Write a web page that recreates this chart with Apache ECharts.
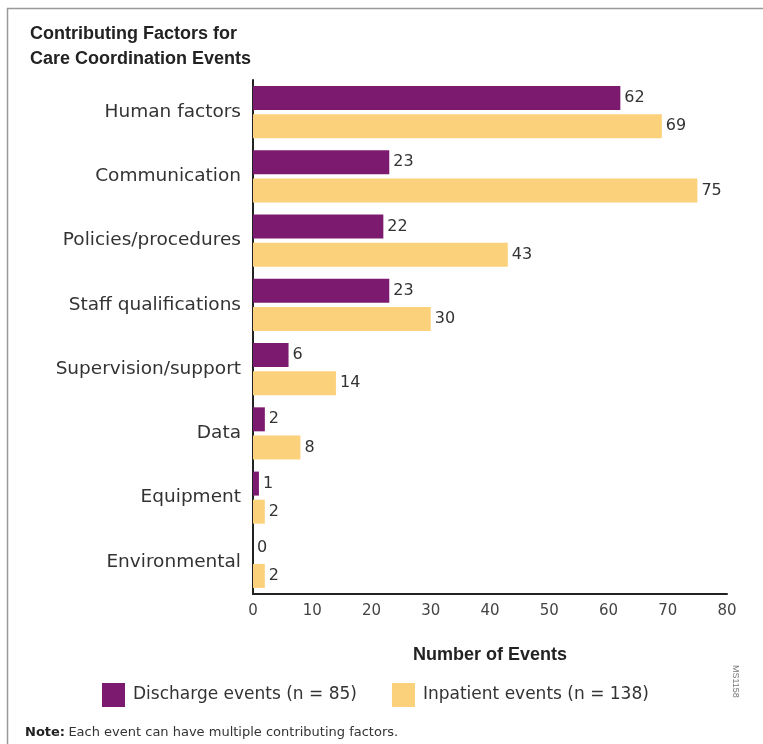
<!DOCTYPE html>
<html>
<head>
<meta charset="utf-8">
<script src="https://cdn.jsdelivr.net/npm/echarts@6/dist/echarts.min.js"></script>
<style>html,body{margin:0;padding:0;background:#fff}#c{width:763px;height:744px}</style>
</head>
<body>
<div id="c"></div>
<script>
const categories = ["Human factors","Communication","Policies/procedures","Staff qualifications","Supervision/support","Data","Equipment","Environmental"];
const dischargeValues = [62,23,22,23,6,2,1,0];
const inpatientValues = [69,75,43,30,14,8,2,2];
const xTicks = {min:0,max:80,interval:10};
const seriesNames = ["Discharge events (n = 85)","Inpatient events (n = 138)"];

const FF = "'Liberation Sans', Arial, sans-serif";
const FW = "'DejaVu Sans', sans-serif";
const chart = echarts.init(document.getElementById('c'));
const lbl = {show:true,position:'right',distance:4,fontSize:16,color:'#333',fontFamily:FW};
chart.setOption({
  animation:false,
  backgroundColor:'#fff',
  grid:{left:253,right:36,top:80,bottom:150},
  legend:{
    data:seriesNames,left:97,top:678,itemWidth:23,itemHeight:24,itemGap:35,
    textStyle:{fontSize:17,color:'#333',fontFamily:FW,padding:[0,0,0,3]},
    icon:'rect'
  },
  xAxis:{type:'value',min:xTicks.min,max:xTicks.max,interval:xTicks.interval,
    axisLine:{show:true,lineStyle:{color:'#222',width:2}},axisTick:{show:false},splitLine:{show:false},
    axisLabel:{fontSize:15,color:'#444',margin:10,fontFamily:FW},
    name:'Number of Events',nameLocation:'middle',nameGap:52,
    nameTextStyle:{fontSize:18,fontWeight:'bold',color:'#222',fontFamily:FF}},
  yAxis:{type:'category',data:categories,inverse:true,
    axisLine:{show:true,lineStyle:{color:'#222',width:2}},axisTick:{show:false},
    axisLabel:{fontSize:18.5,color:'#333',margin:12,fontFamily:FW}},
  series:[
    {name:seriesNames[0],type:'bar',data:dischargeValues,barWidth:24,barGap:'17%',itemStyle:{color:'#7c1a70'},label:lbl},
    {name:seriesNames[1],type:'bar',data:inpatientValues,barWidth:24,itemStyle:{color:'#fcd17c'},label:lbl}
  ],
  graphic:[
    {type:'line',shape:{x1:7,y1:8.5,x2:763,y2:8.5},style:{stroke:'#999',lineWidth:1.5}},
    {type:'line',shape:{x1:7.5,y1:8,x2:7.5,y2:744},style:{stroke:'#999',lineWidth:1.5}},
    {type:'text',left:30,top:22,style:{text:'Contributing Factors for\nCare Coordination Events',fontSize:18,fontWeight:'bold',lineHeight:25,fill:'#222',fontFamily:FF}},
    {type:'text',left:25,top:726,style:{rich:{b:{fontWeight:'bold',fontSize:13,fill:'#222',fontFamily:FW},n:{fontSize:13,fill:'#333',fontFamily:FW}},text:'{b|Note:} {n|Each event can have multiple contributing factors.}'}},
    {type:'text',x:740,y:665,rotation:-Math.PI/2,style:{text:'MS1158',fontSize:9,fill:'#777',fontFamily:FF}}
  ]
});
</script>
</body>
</html>
